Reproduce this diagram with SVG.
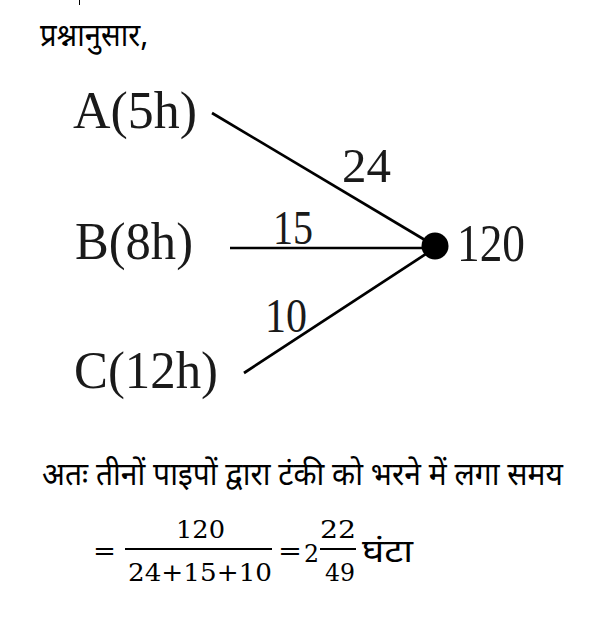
<svg xmlns="http://www.w3.org/2000/svg" width="597" height="618" viewBox="0 0 597 618">
<style>
.hi{font-family:"Noto Sans Devanagari","Noto Sans","Lohit Devanagari","FreeSans",sans-serif;font-weight:400;fill:#000}
.lbl{font-family:"Liberation Serif","Times New Roman",serif;font-size:52px;fill:#1a1a1a}
.num{font-family:"Liberation Serif","Times New Roman",serif;font-size:48px;fill:#1a1a1a}
.m{font-family:"DejaVu Serif","Liberation Serif",serif;font-size:25px;fill:#000}
.edge{stroke:#000;stroke-width:2.7;fill:none}
</style>
<rect width="597" height="618" fill="#fff"/>
<line x1="79.5" y1="0" x2="79.5" y2="5" stroke="#000" stroke-width="1"/>
<text class="hi" x="40" y="46" font-size="32" textLength="108" lengthAdjust="spacingAndGlyphs">प्रश्नानुसार,</text>
<g id="connectors">
<line class="edge" x1="212" y1="113" x2="435" y2="246"/>
<line class="edge" x1="230" y1="248" x2="435" y2="248"/>
<line class="edge" x1="244" y1="373" x2="435" y2="248"/>
<text class="num" x="342" y="182" textLength="49" lengthAdjust="spacingAndGlyphs">24</text>
<text class="num" x="273" y="244" textLength="40" lengthAdjust="spacingAndGlyphs">15</text>
<text class="num" x="265" y="332" textLength="42" lengthAdjust="spacingAndGlyphs">10</text>
</g>
<g id="nodeA"><text class="lbl" x="73" y="128" textLength="124" lengthAdjust="spacingAndGlyphs">A(5h)</text></g>
<g id="nodeB"><text class="lbl" x="75" y="259" textLength="118" lengthAdjust="spacingAndGlyphs">B(8h)</text></g>
<g id="nodeC"><text class="lbl" x="74" y="388" textLength="144" lengthAdjust="spacingAndGlyphs">C(12h)</text></g>
<g id="node120">
<circle cx="435" cy="246" r="13.5" fill="#000"/>
<text class="lbl" x="457" y="261" textLength="68" lengthAdjust="spacingAndGlyphs">120</text>
</g>
<text class="hi" x="42" y="485" font-size="32" textLength="521" lengthAdjust="spacingAndGlyphs">अतः तीनों पाइपों द्वारा टंकी को भरने में लगा समय</text>
<g id="equation">
<text class="m" x="93" y="559" textLength="23" lengthAdjust="spacingAndGlyphs">=</text>
<line x1="125" y1="549" x2="272" y2="549" stroke="#000" stroke-width="2.2"/>
<text class="m" x="176" y="538" textLength="49" lengthAdjust="spacingAndGlyphs">120</text>
<text class="m" x="128" y="581" textLength="144" lengthAdjust="spacingAndGlyphs">24+15+10</text>
<text class="m" x="278" y="559" textLength="24" lengthAdjust="spacingAndGlyphs">=</text>
<text class="m" x="304" y="562" font-size="31" textLength="15" lengthAdjust="spacingAndGlyphs">2</text>
<text class="m" x="320" y="538" textLength="36" lengthAdjust="spacingAndGlyphs">22</text>
<line x1="320" y1="549" x2="356" y2="549" stroke="#000" stroke-width="2.2"/>
<text class="m" x="325" y="581" textLength="30" lengthAdjust="spacingAndGlyphs">49</text>
<text class="hi" x="362" y="562" font-size="32" textLength="51" lengthAdjust="spacingAndGlyphs">घंटा</text>
</g>
</svg>
